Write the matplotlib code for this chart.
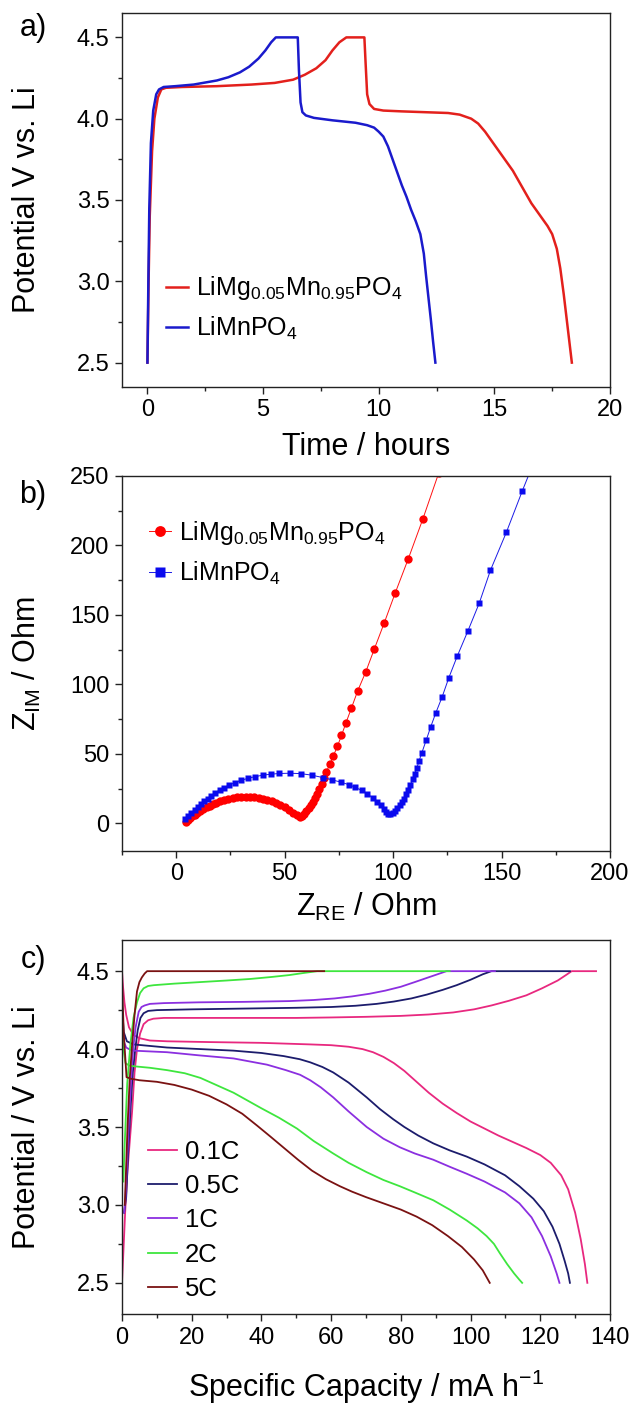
import matplotlib
matplotlib.use("Agg")
from matplotlib import pyplot as plt
from matplotlib.ticker import MultipleLocator

plt.rcParams['font.family'] = ['Liberation Sans', 'DejaVu Sans']
plt.rcParams['mathtext.fontset'] = 'custom'
plt.rcParams['mathtext.rm'] = 'Liberation Sans'

# a) charge/discharge vs time
t_mg = [0, 0.05, 0.1, 0.2, 0.3, 0.45, 0.6, 0.8, 1.5, 3, 4.5, 5.5, 6.3, 6.8, 7.3, 7.7, 8.0, 8.3,
        8.6, 9.38, 9.43, 9.5, 9.6, 9.8, 10.2, 11, 12, 13, 13.5, 14.0, 14.3, 14.6, 15.0, 15.4,
        15.8, 16.2, 16.6, 17.0, 17.3, 17.5, 17.7, 17.85, 18.0, 18.1, 18.2, 18.3, 18.35]
v_mg = [2.5, 3.0, 3.4, 3.8, 4.0, 4.13, 4.18, 4.19, 4.195, 4.2, 4.21, 4.22, 4.24, 4.27, 4.31,
        4.36, 4.42, 4.47, 4.5, 4.5, 4.35, 4.15, 4.09, 4.06, 4.05, 4.045, 4.04, 4.035, 4.025,
        4.0, 3.97, 3.92, 3.84, 3.76, 3.68, 3.58, 3.48, 3.40, 3.34, 3.29, 3.2, 3.08, 2.92, 2.8,
        2.68, 2.56, 2.5]
t_mn = [0, 0.04, 0.08, 0.15, 0.25, 0.38, 0.5, 0.7, 1.2, 2, 3.0, 3.5, 4.0, 4.4, 4.8, 5.1, 5.35,
        5.55, 6.5, 6.55, 6.62, 6.7, 6.85, 7.2, 8, 9, 9.5, 9.8, 10.0, 10.2, 10.4, 10.6, 10.8,
        11.0, 11.2, 11.4, 11.6, 11.8, 11.95, 12.05, 12.15, 12.25, 12.35, 12.45]
v_mn = [2.5, 3.0, 3.45, 3.85, 4.05, 4.15, 4.18, 4.195, 4.2, 4.21, 4.235, 4.255, 4.285, 4.32,
        4.37, 4.42, 4.47, 4.5, 4.5, 4.3, 4.1, 4.04, 4.02, 4.005, 3.99, 3.975, 3.96, 3.945, 3.92,
        3.89, 3.83, 3.75, 3.67, 3.59, 3.52, 3.44, 3.37, 3.29, 3.17, 3.03, 2.9, 2.77, 2.63, 2.5]

# b) impedance
zre_mg = [4.5, 5.5, 6.5, 7.5, 8.5, 9.5, 11, 12.5, 14, 15.5, 17, 18.5, 20, 22, 24, 26, 28, 30, 32,
          34, 36, 38, 40, 42, 44, 46, 48, 50, 52, 54, 55.5, 57, 58, 59, 60, 61, 62, 63, 64, 65,
          66, 67, 68, 69.2, 70.8, 72.4, 74.3, 76.2, 78.2, 80.8, 83.7, 87.4, 91.4, 95.9, 101,
          107, 113.7, 121]
zim_mg = [1.0, 2.3, 3.6, 4.9, 6.1, 7.2, 8.8, 10.2, 11.5, 12.7, 13.8, 14.8, 15.7, 16.7, 17.5, 18.1,
          18.6, 18.9, 19.0, 19.0, 18.8, 18.4, 17.8, 17.0, 16.0, 14.8, 13.4, 11.7, 9.8, 7.6, 5.8,
          4.3, 5.5, 7.0, 8.8, 10.8, 13.0, 15.5, 18.2, 21.2, 24.5, 28.2, 32.3, 37, 42.3, 48.3,
          55.3, 63.2, 72, 83, 95.4, 109, 125.7, 144.2, 165.9, 190.4, 219, 252]
zre_mn = [4, 5.5, 7, 8.5, 10, 11.5, 13, 14.5, 16, 18, 20, 22, 24.5, 27, 29.8, 33, 36.5, 40, 43.5,
          47.5, 52.5, 57.5, 62.5, 67.5, 72, 76, 79.5, 82.5, 85.5, 88, 90.5, 92.5, 94.2, 95.7,
          96.8, 97.6, 98.6, 100, 101, 102, 103, 104, 105, 106, 107, 108, 109, 110, 111, 112,
          113.2, 115.3, 117.3, 119.6, 122.6, 125.7, 129.6, 134.5, 139.7, 144.9, 152.2, 159.6, 168]
zim_mn = [3, 5.3, 7.6, 9.8, 12, 14, 16, 17.8, 19.6, 21.8, 23.8, 25.6, 27.5, 29.2, 30.8, 32.3, 33.6,
          34.6, 35.3, 35.8, 36, 35.7, 34.6, 32.9, 31.2, 29.5, 27.8, 25.9, 23.6, 21.2, 18.4, 15.6,
          12.9, 10.4, 8.3, 6.8, 6.5, 7.5, 9, 10.8, 12.8, 15.2, 17.8, 20.8, 24, 27.6, 31.5, 35.6,
          40, 45, 50.5, 60, 69.2, 79.1, 90.9, 104.8, 120.4, 138.5, 158.4, 182.2, 209.4, 239.4, 272]

# c) rate capability: charge and discharge curves
rates = ["0.1C", "0.5C", "1C", "2C", "5C"]
colors = ["#e8287f", "#1c1c6c", "#8b2fe0", "#3ee63e", "#7a1212"]
q_ch = [
    [0, 0.4, 0.9, 1.5, 2.2, 2.9, 3.6, 4.3, 5.2, 6.2, 7.5, 9, 12, 22, 35, 50, 60, 70, 80, 88, 95,
     101, 106, 111, 116, 120.5, 125, 127.7, 129, 136],
    [0.6, 1.2, 1.8, 2.4, 3.1, 3.8, 4.5, 5.3, 6.2, 7.5, 10, 20, 35, 50, 60, 67, 73, 78, 83, 87.5,
     92, 96, 100, 103.5, 106, 128.5],
    [0.6, 1.0, 1.5, 2.0, 2.6, 3.2, 3.9, 4.8, 5.6, 6.5, 8, 12, 22, 35, 48, 55, 61, 66, 71, 75.5,
     80, 84, 87.5, 90.5, 93.1, 107],
    [0.4, 0.7, 1.0, 1.5, 2.4, 3.3, 4.3, 5.2, 6.2, 7.5, 9.1, 15, 22.5, 30, 36.8, 43, 48, 52, 56,
     94],
    [0.8, 1.2, 1.6, 2.2, 2.9, 3.6, 4.3, 5.0, 5.7, 6.5, 7.2, 58],
]
v_ch = [
    [2.5, 2.7, 2.95, 3.2, 3.4, 3.6, 3.85, 4.0, 4.1, 4.16, 4.185, 4.195, 4.2, 4.2, 4.2, 4.2, 4.203,
     4.207, 4.213, 4.222, 4.235, 4.255, 4.28, 4.31, 4.345, 4.39, 4.44, 4.48, 4.5, 4.5],
    [2.95, 3.05, 3.35, 3.6, 3.85, 4.0, 4.12, 4.2, 4.23, 4.245, 4.25, 4.255, 4.26, 4.265, 4.27,
     4.278, 4.29, 4.305, 4.325, 4.35, 4.38, 4.41, 4.445, 4.48, 4.5, 4.5],
    [2.95, 3.05, 3.3, 3.55, 3.8, 4.0, 4.14, 4.24, 4.27, 4.28, 4.29, 4.295, 4.30, 4.303, 4.308,
     4.315, 4.325, 4.338, 4.355, 4.375, 4.40, 4.43, 4.457, 4.48, 4.5, 4.5],
    [3.15, 3.35, 3.51, 3.78, 4.03, 4.2, 4.30, 4.36, 4.39, 4.405, 4.41, 4.42, 4.43, 4.44, 4.45,
     4.463, 4.475, 4.488, 4.5, 4.5],
    [3.0, 3.25, 3.51, 3.8, 4.03, 4.22, 4.37, 4.43, 4.46, 4.485, 4.5, 4.5],
]
q_dis = [
    [0, 0.3, 0.7, 1.2, 2, 3.3, 5, 8, 13, 25, 40, 54, 60, 65, 69, 72, 75, 78, 81, 84.5, 88, 92, 96,
     100, 104, 108, 112, 116, 120, 123, 126, 128, 130, 131.6, 132.8, 133.5],
    [0, 0.5, 1.4, 3.3, 12.9, 32, 40, 46.4, 51, 54, 57.5, 60.6, 65, 70.2, 74, 77.8, 81, 85, 89.3, 94,
     98.9, 104, 109.9, 114, 118, 121, 123.5, 125.5, 127, 128, 128.5],
    [0, 0.5, 1.2, 2, 3.3, 8, 12.9, 22, 32, 41.6, 47, 51.1, 54, 57, 60.6, 65, 70.2, 75, 79.7, 84,
     89.3, 94, 98.9, 104, 109.9, 114, 117.5, 120.5, 123, 124.7, 125.5],
    [0, 0.4, 1.0, 2, 3.3, 8, 12.9, 18, 22.5, 27, 32, 36, 40, 45, 50.2, 55, 60.6, 65, 70.2, 75,
     79.7, 84, 89.3, 94, 98.9, 102, 104.6, 106.7, 108.4, 110.5, 112.5, 114, 114.8],
    [0, 0.5, 1.3, 2.5, 5, 10, 15, 20, 25, 30, 34.5, 38.7, 42.5, 46.5, 50.5, 54.5, 58.5, 62.5, 66,
     70, 75, 80, 84.5, 89, 93.5, 97.5, 101, 103.5, 105.5],
]
v_dis = [
    [4.5, 4.4, 4.3, 4.22, 4.14, 4.09, 4.07, 4.055, 4.05, 4.045, 4.04, 4.03, 4.025, 4.015, 4.0,
     3.98, 3.95, 3.91, 3.86, 3.79, 3.72, 3.65, 3.59, 3.535, 3.49, 3.445, 3.405, 3.365, 3.32,
     3.27, 3.19, 3.1, 2.95, 2.78, 2.62, 2.5],
    [4.28, 4.11, 4.05, 4.03, 4.01, 3.99, 3.975, 3.955, 3.935, 3.915, 3.885, 3.85, 3.785, 3.69,
     3.615, 3.55, 3.50, 3.445, 3.395, 3.35, 3.31, 3.26, 3.19, 3.12, 3.04, 2.96, 2.86, 2.75,
     2.64, 2.56, 2.5],
    [4.2, 4.05, 4.01, 4.0, 3.99, 3.985, 3.98, 3.96, 3.94, 3.90, 3.865, 3.835, 3.80, 3.755, 3.69,
     3.60, 3.50, 3.425, 3.37, 3.33, 3.29, 3.245, 3.20, 3.15, 3.08, 3.01, 2.92, 2.80, 2.67, 2.56,
     2.5],
    [4.12, 4.0, 3.91, 3.895, 3.89, 3.88, 3.865, 3.845, 3.815, 3.77, 3.72, 3.67, 3.62, 3.56, 3.49,
     3.41, 3.33, 3.27, 3.21, 3.16, 3.12, 3.08, 3.03, 2.97, 2.90, 2.85, 2.80, 2.75, 2.69, 2.62,
     2.56, 2.52, 2.5],
    [4.45, 4.1, 3.82, 3.81, 3.80, 3.79, 3.77, 3.74, 3.70, 3.645, 3.585, 3.51, 3.44, 3.365, 3.29,
     3.22, 3.165, 3.12, 3.085, 3.05, 3.01, 2.97, 2.925, 2.87, 2.80, 2.73, 2.65, 2.58, 2.5],
]

lbl_mg = r"LiMg$\mathregular{_{0.05}}$Mn$\mathregular{_{0.95}}$PO$\mathregular{_4}$"
lbl_mn = r"LiMnPO$\mathregular{_4}$"

W, H = 632, 1408
fig = plt.figure(figsize=(W / 100, H / 100), dpi=100)


def box(top, bottom, left=122, right=610):
    return [left / W, 1 - bottom / H, (right - left) / W, (bottom - top) / H]


def style(ax):
    for s in ax.spines.values():
        s.set_color("#222222")
        s.set_linewidth(1.0)
    ax.tick_params(which="both", direction="out", labelsize=17, width=1, color="#222222",
                   top=False, right=False)
    ax.tick_params(which="major", length=5, pad=4)
    ax.tick_params(which="minor", length=3)


# panel a
ax1 = fig.add_axes(box(13, 387))
ax1.plot(t_mg, v_mg, color="#e3201c", lw=1.8, label=lbl_mg)
ax1.plot(t_mn, v_mn, color="#1a1acc", lw=1.8, label=lbl_mn)
ax1.set_xlim(-1.1, 20)
ax1.set_ylim(2.35, 4.65)
ax1.xaxis.set_major_locator(MultipleLocator(5))
ax1.xaxis.set_minor_locator(MultipleLocator(2.5))
ax1.yaxis.set_major_locator(MultipleLocator(0.5))
ax1.yaxis.set_minor_locator(MultipleLocator(0.25))
ax1.yaxis.set_major_formatter(lambda v, p: "{:.1f}".format(v))
style(ax1)
ax1.set_xlabel("Time / hours", fontsize=22, va="center")
ax1.xaxis.set_label_coords(0.5, -0.16)
ax1.set_ylabel("Potential V vs. Li", fontsize=22, va="center")
ax1.yaxis.set_label_coords(-0.195, 0.5)
ax1.legend(loc="lower left", bbox_to_anchor=(0.09, 0.12), frameon=False, fontsize=18,
           handlelength=0.9, handletextpad=0.32, labelspacing=0.5, borderpad=0, borderaxespad=0)

# panel b
ax2 = fig.add_axes(box(476, 851))
ax2.plot(zre_mg, zim_mg, color="#ff1010", lw=0.7, marker="o", ms=6, mec="none",
         mfc="#ff0000", label=lbl_mg)
ax2.plot(zre_mn, zim_mn, color="#1a1ae6", lw=0.7, marker="s", ms=5, mec="none",
         mfc="#0a0aee", label=lbl_mn)
ax2.set_xlim(-25, 200)
ax2.set_ylim(-20, 250)
ax2.xaxis.set_major_locator(MultipleLocator(50))
ax2.xaxis.set_minor_locator(MultipleLocator(25))
ax2.yaxis.set_major_locator(MultipleLocator(50))
ax2.yaxis.set_minor_locator(MultipleLocator(25))
style(ax2)
ax2.set_xlabel(r"Z$\mathregular{_{RE}}$ / Ohm", fontsize=22, va="center")
ax2.xaxis.set_label_coords(0.5, -0.15)
ax2.set_ylabel(r"Z$\mathregular{_{IM}}$ / Ohm", fontsize=22, va="center")
ax2.yaxis.set_label_coords(-0.195, 0.5)
ax2.legend(loc="upper left", bbox_to_anchor=(0.055, 0.885), frameon=False, fontsize=18,
           handlelength=0.9, handletextpad=0.3, labelspacing=0.5, borderpad=0, borderaxespad=0,
           markerscale=1.3)

# panel c
ax3 = fig.add_axes(box(940, 1314))
for rate, col, qc, vc, qd, vd in zip(rates, colors, q_ch, v_ch, q_dis, v_dis):
    ax3.plot(qc, vc, color=col, lw=1.3, label=rate)
    ax3.plot(qd, vd, color=col, lw=1.3)
ax3.set_xlim(0, 140)
ax3.set_ylim(2.3, 4.7)
ax3.xaxis.set_major_locator(MultipleLocator(20))
ax3.xaxis.set_minor_locator(MultipleLocator(10))
ax3.yaxis.set_major_locator(MultipleLocator(0.5))
ax3.yaxis.set_minor_locator(MultipleLocator(0.25))
ax3.yaxis.set_major_formatter(lambda v, p: "{:.1f}".format(v))
style(ax3)
ax3.set_xlabel(r"Specific Capacity / mA h$\mathregular{^{-1}}$", fontsize=22, va="center")
ax3.xaxis.set_label_coords(0.5, -0.195)
ax3.set_ylabel("Potential / V vs. Li", fontsize=22, va="center")
ax3.yaxis.set_label_coords(-0.195, 0.5)
ax3.legend(loc="lower left", bbox_to_anchor=(0.053, 0.035), frameon=False, fontsize=18.5,
           handlelength=1.15, handletextpad=0.3, labelspacing=0.4, borderpad=0, borderaxespad=0)

# panel letters
for letter, y in [("a)", 28), ("b)", 495), ("c)", 960)]:
    fig.text(33 / W, 1 - y / H, letter, fontsize=22, ha="center", va="center")

fig.savefig("out.png", dpi=100)
